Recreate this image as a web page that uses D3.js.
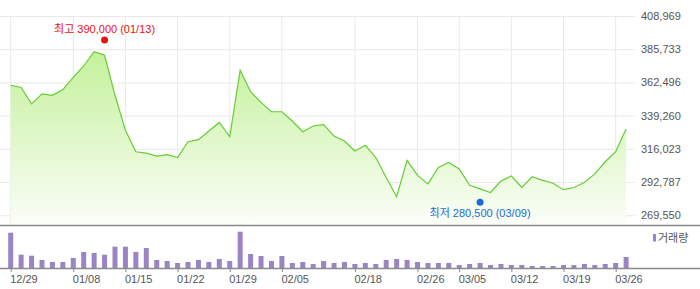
<!DOCTYPE html>
<html>
<head>
<meta charset="utf-8">
<script src="https://cdn.jsdelivr.net/npm/d3@7"></script>
<style>
  body { margin: 0; background: #fff; }
  svg { display: block; font-family: "Liberation Sans", "Noto Sans CJK KR", sans-serif; }
</style>
</head>
<body>
<svg id="chart" width="700" height="289"></svg>
<script>
// trading days, 2020-12-29 .. 2021-03-29
const dates = ["12/29","12/30","01/04","01/05","01/06","01/07","01/08","01/11","01/12","01/13",
  "01/14","01/15","01/18","01/19","01/20","01/21","01/22","01/25","01/26","01/27",
  "01/28","01/29","02/01","02/02","02/03","02/04","02/05","02/08","02/09","02/10",
  "02/15","02/16","02/17","02/18","02/19","02/22","02/23","02/24","02/25","02/26",
  "03/02","03/03","03/04","03/05","03/08","03/09","03/10","03/11","03/12","03/15",
  "03/16","03/17","03/18","03/19","03/22","03/23","03/24","03/25","03/26","03/29"];

const closes = [360500,359000,347500,354500,353500,357500,366000,374000,384000,381500,
  353500,329000,314000,313000,311000,312000,310000,321000,322500,328500,
  334500,324500,371000,356000,348500,342000,342000,335500,328000,332000,
  333000,325000,321500,314500,318500,310000,296000,282500,308000,297500,
  291500,303000,306500,302000,290500,288000,285500,293500,297000,289000,
  296500,294000,292000,287500,289000,292500,298500,307000,314000,330000];

const volumes = [353,133,123,80,60,60,100,160,150,133,
  213,213,160,200,80,70,50,60,80,60,
  90,70,363,140,120,70,120,50,60,40,
  70,50,60,40,50,40,80,90,80,60,
  50,50,50,30,40,50,30,40,30,30,
  20,20,20,30,30,40,30,40,50,110];

const priceTicks = [269550,292787,316023,339260,362496,385733,408969];
const dateTicks = ["12/29","01/08","01/15","01/22","01/29","02/05","02/18","02/26","03/05","03/12","03/19","03/26"];

const high = { date: "01/13", value: 390000 };
const low = { date: "03/09", value: 280500 };

const svg = d3.select("#chart");
const gridColor = "#e9e9e9";

const x = d3.scalePoint().domain(dates).range([10.7, 626.1]);
const y = d3.scaleLinear().domain([269550, 408969]).range([215.3, 16]);
const yVol = d3.scaleLinear().domain([0, d3.max(volumes)]).range([268, 231.7]);

// gradient for price area
const grad = svg.append("defs").append("linearGradient")
  .attr("id", "areaFill").attr("gradientUnits", "userSpaceOnUse")
  .attr("x1", 0).attr("x2", 0).attr("y1", 16).attr("y2", 225);
grad.append("stop").attr("offset", "0%").attr("stop-color", "#b9ee88");
grad.append("stop").attr("offset", "100%").attr("stop-color", "#fbfef8");

// horizontal grid + right labels
svg.append("g")
  .attr("transform", "translate(635,0)")
  .call(d3.axisRight(y).tickValues(priceTicks).tickSize(-635).tickPadding(6)
    .tickFormat(d3.format(",")))
  .call(g => g.select(".domain").remove())
  .call(g => g.selectAll("line").attr("stroke", gridColor))
  .call(g => g.selectAll("text").attr("fill", "#555").attr("font-size", 11).attr("font-family", null));

// vertical grid
svg.append("g").selectAll("line")
  .data(dateTicks).join("line")
  .attr("x1", d => x(d)).attr("x2", d => x(d))
  .attr("y1", y(408969)).attr("y2", 225)
  .attr("stroke", gridColor);

// area + line
const data = dates.map((d, i) => ({ date: d, close: closes[i], vol: volumes[i] }));
svg.append("path").datum(data)
  .attr("fill", "url(#areaFill)")
  .attr("d", d3.area().x(d => x(d.date)).y0(225).y1(d => y(d.close)));
svg.append("path").datum(data)
  .attr("fill", "none").attr("stroke", "#66cc33").attr("stroke-width", 1.2)
  .attr("d", d3.line().x(d => x(d.date)).y(d => y(d.close)));

// high / low markers
svg.append("circle").attr("cx", x(high.date)).attr("cy", y(high.value) - 3).attr("r", 3.5).attr("fill", "#ee1111");
svg.append("text").attr("x", x(high.date)).attr("y", y(high.value) - 10)
  .attr("text-anchor", "middle").attr("font-size", 11).attr("fill", "#ee1111")
  .text(`최고 ${d3.format(",")(high.value)} (${high.date})`);
svg.append("circle").attr("cx", x(low.date)).attr("cy", y(low.value) + 2.5).attr("r", 3.5).attr("fill", "#1a6ad6");
svg.append("text").attr("x", x(low.date)).attr("y", y(low.value) + 17)
  .attr("text-anchor", "middle").attr("font-size", 11).attr("fill", "#1a6ad6")
  .text(`최저 ${d3.format(",")(low.value)} (${low.date})`);

// panel separator
svg.append("line").attr("x1", 0).attr("x2", 700).attr("y1", 225.5).attr("y2", 225.5)
  .attr("stroke", "#8a8a8a").attr("stroke-width", 1.5);

// volume bars
svg.append("g").selectAll("rect")
  .data(data).join("rect")
  .attr("x", d => x(d.date) - 2.5)
  .attr("width", 5)
  .attr("y", d => yVol(d.vol))
  .attr("height", d => 268 - yVol(d.vol))
  .attr("fill", "#9a84c4");

// bottom axis
svg.append("g")
  .attr("transform", "translate(0,268)")
  .call(d3.axisBottom(x).tickValues(dateTicks).tickSize(4).tickPadding(3))
  .call(g => g.select(".domain").attr("d", "M0,0.5H700").attr("stroke", "#8a8a8a").attr("stroke-width", 1.5))
  .call(g => g.selectAll("line").attr("stroke", "#8a8a8a"))
  .call(g => g.selectAll("text").attr("text-anchor", "start").attr("dx", -1)
    .attr("fill", "#555").attr("font-size", 11).attr("font-family", null));

// legend
const legend = svg.append("g").attr("transform", "translate(653,234)");
legend.append("rect").attr("width", 3).attr("height", 7.5).attr("fill", "#9a84c4");
legend.append("text").attr("x", 5).attr("y", 8).attr("font-size", 11).attr("fill", "#555").text("거래량");
</script>
</body>
</html>
